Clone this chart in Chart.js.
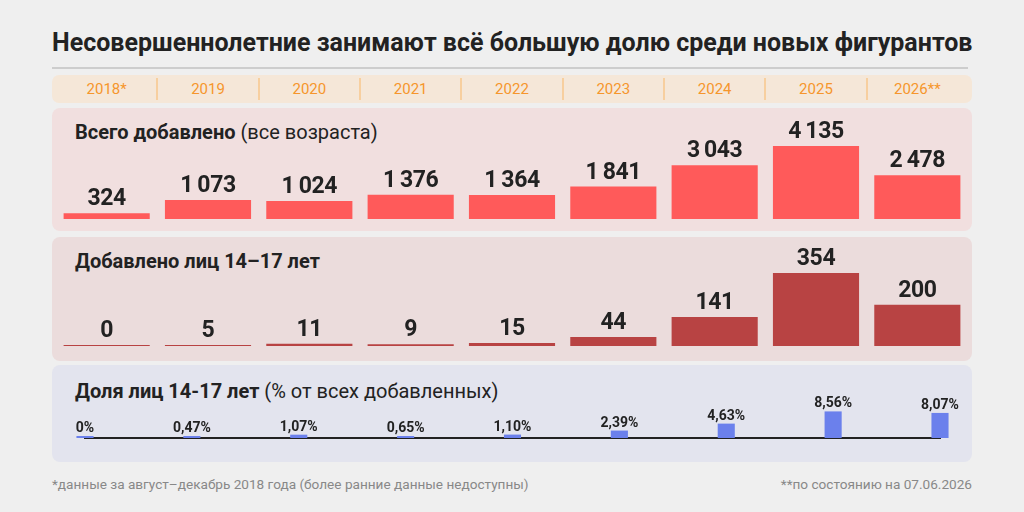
<!DOCTYPE html>
<html lang="ru">
<head>
<meta charset="utf-8">
<script src="https://cdn.jsdelivr.net/npm/chart.js@4"></script>
<style>
  html,body{margin:0;padding:0;}
  body{width:1024px;height:512px;background:#efefef;position:relative;overflow:hidden;font-family:Roboto,"Noto Sans",sans-serif;color:#222;}
  .abs{position:absolute;}
  #title{left:52px;top:28px;font-size:25px;line-height:30px;font-weight:700;white-space:nowrap;}
  #rule{left:52px;top:67px;width:916px;height:2px;background:#cdcdcd;}
  #band{left:52px;top:75px;width:920px;height:28px;background:#f5e7d8;border-radius:7px;}
  #years{left:56px;top:75px;width:912px;height:28px;display:flex;}
  #years div{flex:1;text-align:center;line-height:28px;color:#f5962c;font-size:15px;position:relative;}
  #years div+div::before{content:"";position:absolute;left:-1px;top:3px;bottom:3px;width:2px;background:#f7cf9f;}
  .panel{left:52px;width:920px;border-radius:8px;}
  #p1{top:108px;height:123px;background:#f1dfdf;}
  #p2{top:237px;height:124px;background:#ebdcdc;}
  #p3{top:365px;height:97px;background:#e3e4ee;}
  .ptitle{left:75px;font-size:20px;line-height:24px;font-weight:700;white-space:nowrap;}
  .ptitle span{font-weight:400;}
  canvas{position:absolute;}
  .note{top:476px;font-size:13.6px;line-height:16px;color:#888;white-space:nowrap;}
</style>
</head>
<body>
<div class="abs" id="title">Несовершеннолетние занимают всё большую долю среди новых фигурантов</div>
<div class="abs" id="rule"></div>
<div class="abs" id="band"></div>
<div class="abs" id="years"></div>

<div class="abs panel" id="p1"></div>
<div class="abs panel" id="p2"></div>
<div class="abs panel" id="p3"></div>

<div class="abs ptitle" style="top:120px">Всего добавлено <span>(все возраста)</span></div>
<div class="abs ptitle" style="top:249px">Добавлено лиц 14–17 лет</div>
<div class="abs ptitle" style="top:379px">Доля лиц 14-17 лет <span>(% от всех добавленных)</span></div>

<canvas id="totalChart" width="912" height="114" style="left:56px;top:108px"></canvas>
<canvas id="teenChart" width="912" height="112" style="left:56px;top:237px"></canvas>
<canvas id="shareChart" width="904" height="76" style="left:60px;top:365px"></canvas>

<div class="abs note" style="left:52px">*данные за август–декабрь 2018 года (более ранние данные недоступны)</div>
<div class="abs note" style="right:52px">**по состоянию на 07.06.2026</div>

<script>
const years = ['2018*', '2019', '2020', '2021', '2022', '2023', '2024', '2025', '2026**'];
const totalAdded = [324, 1073, 1024, 1376, 1364, 1841, 3043, 4135, 2478];
const teensAdded = [0, 5, 11, 9, 15, 44, 141, 354, 200];
const teenShare = [0, 0.47, 1.07, 0.65, 1.10, 2.39, 4.63, 8.56, 8.07];

// year strip
const yearsBox = document.getElementById('years');
years.forEach(y => {
    const d = document.createElement('div');
    d.textContent = y;
    yearsBox.appendChild(d);
});

const fmtThousands = v => String(v).replace(/\B(?=(\d{3})+(?!\d))/g, '\u2009');
const fmtShare = v => v === 0 ? '0%' : v.toFixed(2).replace('.', ',') + '%';

function labelPlugin(format, font, gap, spacing){
    return {
        id: 'valueLabels',
        afterDatasetsDraw(chart){
            const ctx = chart.ctx;
            const meta = chart.getDatasetMeta(0);
            const values = chart.data.datasets[0].data;
            ctx.save();
            ctx.font = font;
            if ('letterSpacing' in ctx) ctx.letterSpacing = spacing;
            ctx.fillStyle = '#222';
            ctx.textAlign = 'center';
            ctx.textBaseline = 'alphabetic';
            meta.data.forEach((bar, i) => {
                ctx.fillText(format(values[i]), bar.x, bar.y - gap);
            });
            ctx.restore();
        }
    };
}

function makeBarChart(id, values, o){
    return new Chart(document.getElementById(id), {
        type: 'bar',
        data: {
            labels: years,
            datasets: [{
                data: values,
                backgroundColor: o.color,
                barPercentage: o.barPct,
                categoryPercentage: 1,
                minBarLength: o.minLen,
                clip: false
            }]
        },
        options: {
            responsive: false,
            animation: false,
            layout: { padding: o.padding },
            plugins: { legend: { display: false }, tooltip: { enabled: false } },
            scales: {
                x: {
                    display: o.axisLine,
                    offset: o.offset,
                    grid: { display: false, drawTicks: false },
                    ticks: { display: false },
                    border: { display: o.axisLine, color: '#222', width: 2 }
                },
                y: { display: false, min: 0, max: o.max }
            }
        },
        plugins: [labelPlugin(o.format, o.font, o.gap, o.spacing)]
    });
}

makeBarChart('totalChart', totalAdded, {
    color: '#ff5a5a', barPct: 0.85, minLen: 1, max: 6290,
    padding: { bottom: 3 }, axisLine: false, offset: true,
    format: fmtThousands, font: 'bold 23px Roboto', gap: 8, spacing: '-0.4px'
});

makeBarChart('teenChart', teensAdded, {
    color: '#b84343', barPct: 0.85, minLen: 1, max: 529,
    padding: { bottom: 3 }, axisLine: false, offset: true,
    format: fmtThousands, font: 'bold 23px Roboto', gap: 8, spacing: '-0.4px'
});

makeBarChart('shareChart', teenShare, {
    color: '#6b80ec', barPct: 0.16, minLen: 2, max: 23.5,
    padding: { left: 25, right: 24, bottom: 3 }, axisLine: true, offset: false,
    format: fmtShare, font: 'bold 14px Roboto', gap: 4, spacing: '0px'
});
</script>
</body>
</html>
